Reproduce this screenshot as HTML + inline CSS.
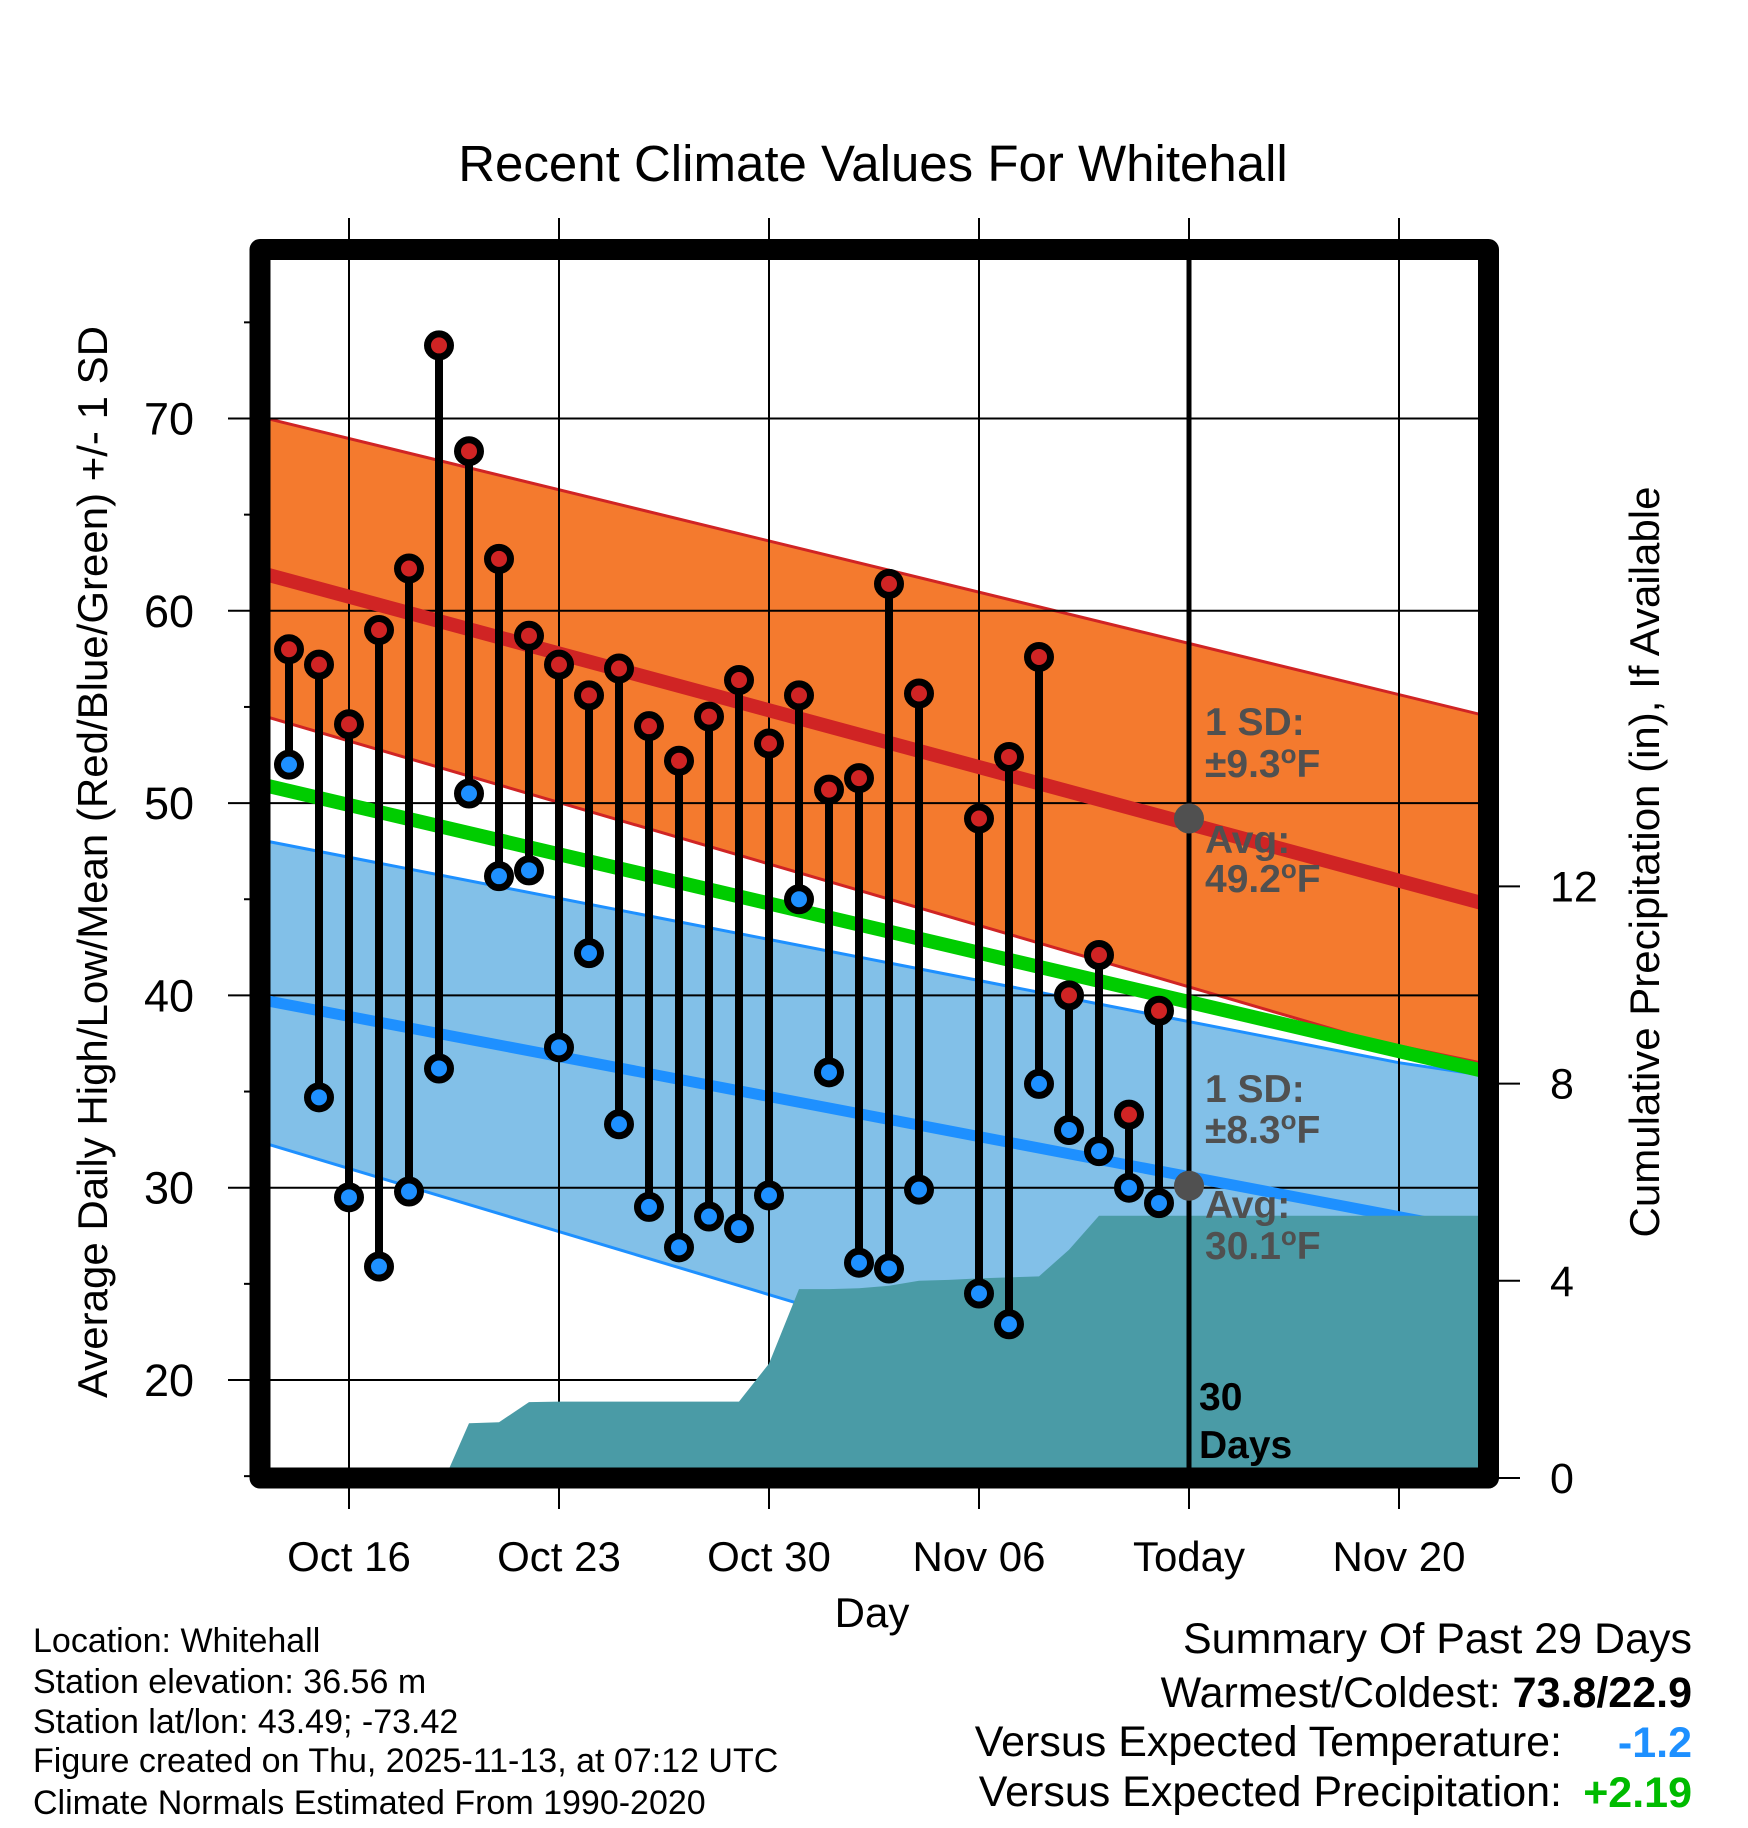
<!DOCTYPE html>
<html><head><meta charset="utf-8"><style>
html,body{margin:0;padding:0;background:#fff;}
svg{display:block;font-family:"Liberation Sans",sans-serif;}
</style></head><body>
<svg id="chart" width="1748" height="1828" viewBox="0 0 1748 1828" xmlns="http://www.w3.org/2000/svg">
<defs><clipPath id="plotclip"><rect x="270" y="260" width="1208" height="1208"/></clipPath></defs>
<rect width="1748" height="1828" fill="#fff"/>
<text x="873" y="181" font-size="51" text-anchor="middle">Recent Climate Values For Whitehall</text>
<g id="bands" clip-path="url(#plotclip)"></g>
<g id="grid"></g>
<g id="lines" clip-path="url(#plotclip)"></g>
<g id="precip" clip-path="url(#plotclip)"></g>
<g id="marks"></g>
<g id="annot" font-weight="bold" font-size="39" fill="#505050"></g>
<rect x="260" y="249.5" width="1228.5" height="1228.5" fill="none" stroke="#000" stroke-width="21" stroke-linejoin="round"/>
<g id="axes"></g>
<text transform="translate(107,862) rotate(-90)" font-size="42" text-anchor="middle">Average Daily High/Low/Mean (Red/Blue/Green) +/- 1 SD</text>
<text transform="translate(1659,862) rotate(-90)" font-size="42" text-anchor="middle">Cumulative Precipitation (in), If Available</text>
<text x="872" y="1627" font-size="42" text-anchor="middle">Day</text>
<g font-size="34">
<text x="33" y="1652">Location: Whitehall</text>
<text x="33" y="1693">Station elevation: 36.56 m</text>
<text x="33" y="1733">Station lat/lon: 43.49; -73.42</text>
<text x="33" y="1772">Figure created on Thu, 2025-11-13, at 07:12 UTC</text>
<text x="33" y="1814">Climate Normals Estimated From 1990-2020</text>
</g>
<g font-size="43" text-anchor="end">
<text x="1692" y="1653">Summary Of Past 29 Days</text>
<text x="1692" y="1707"><tspan>Warmest/Coldest:  </tspan><tspan font-weight="bold">73.8/22.9</tspan></text>
<text x="1562" y="1756">Versus Expected Temperature:</text>
<text x="1692" y="1757" font-weight="bold" fill="#1E90FF">-1.2</text>
<text x="1562" y="1806">Versus Expected Precipitation:</text>
<text x="1692" y="1807" font-weight="bold" fill="#00BB00">+2.19</text>
</g>
</svg>
<script>
const days=[0,1,2,3,4,5,6,7,8,9,10,11,12,13,14,15,16,17,18,19,20,21,23,24,25,26,27,28,29];
const highs=[58.0,57.2,54.1,59.0,62.2,73.8,68.3,62.7,58.7,57.2,55.6,57.0,54.0,52.2,54.5,56.4,53.1,55.6,50.7,51.3,61.4,55.7,49.2,52.4,57.6,40.0,42.1,33.8,39.2];
const lows=[52.0,34.7,29.5,25.9,29.8,36.2,50.5,46.2,46.5,37.3,42.2,33.3,29.0,26.9,28.5,27.9,29.6,45.0,36.0,26.1,25.8,29.9,24.5,22.9,35.4,33.0,31.9,30.0,29.2];
const normDays=[-1,40];
const avgHigh=[62.0,44.7];
const upperHigh=[70.1,54.5];
const lowerHighDays=[-1,36,40];
const lowerHigh=[54.6,37.7,36.4];
const avgMean=[51.0,36.0];
const upperLowDays=[-1,37,40];
const upperLow=[48.1,36.5,35.8];
const avgLow=[39.8,27.6];
const lowerLow=[32.4,13.2];
const precipDays=[5.2,6,7,8,9,15,16,17,18,19,20,21,22,23,24,25,26,27,29,40];
const precipCum=[0,1.11,1.13,1.54,1.55,1.55,2.32,3.83,3.83,3.85,3.9,4.0,4.02,4.05,4.07,4.09,4.63,5.32,5.32,5.32];
const yTicks=[20,30,40,50,60,70];
const yMinor=[15,25,35,45,55,65,75];
const pTicks=[0,4,8,12];
const xTickDays=[2,9,16,23,30,37];
const xTickLabels=["Oct 16","Oct 23","Oct 30","Nov 06","Today","Nov 20"];
const todayDay=30;

const NS="http://www.w3.org/2000/svg";
const X=d=>289+d*30;
const Y=v=>418.5+(70-v)*19.23;
const P=p=>1478-p*49.3;
function mk(tag,attrs,parent){const e=document.createElementNS(NS,tag);for(const k in attrs)e.setAttribute(k,attrs[k]);document.getElementById(parent).appendChild(e);return e;}
function pts(ds,vs){return ds.map((d,i)=>X(d)+","+Y(vs[i])).join(" ");}

let lb=mk('polygon',{points:pts(upperLowDays,upperLow)+" "+pts(normDays.slice().reverse(),lowerLow.slice().reverse()),fill:'#82C0E8'},'bands');


let ob=mk('polygon',{points:pts(normDays,upperHigh)+" "+pts(lowerHighDays.slice().reverse(),lowerHigh.slice().reverse()),fill:'#F47A2E'},'bands');


let e;
e=mk('polyline',{points:pts(normDays,upperHigh),fill:'none',stroke:'#D02424','stroke-width':3},'bands');


e=mk('polyline',{points:pts(lowerHighDays,lowerHigh),fill:'none',stroke:'#D02424','stroke-width':3},'bands');


e=mk('polyline',{points:pts(upperLowDays,upperLow),fill:'none',stroke:'#1E90FF','stroke-width':3},'bands');


e=mk('polyline',{points:pts(normDays,lowerLow),fill:'none',stroke:'#1E90FF','stroke-width':3},'bands');



yTicks.forEach(v=>{
 const g=mk('line',{x1:228,x2:1488,y1:Y(v),y2:Y(v),stroke:'#000','stroke-width':2},'grid');
 
 
 const t=mk('text',{x:194,y:Y(v)+16,'font-size':45,'text-anchor':'end'},'axes');
 t.textContent=v;
 
 
});
yMinor.forEach(v=>{
 const g=mk('line',{x1:244,x2:260,y1:Y(v),y2:Y(v),stroke:'#000','stroke-width':2},'axes');
 
 
});
xTickDays.forEach((d,i)=>{
 const g=mk('line',{x1:X(d),x2:X(d),y1:218,y2:1509,stroke:'#000','stroke-width':2},'grid');
 
 
 const t=mk('text',{x:X(d),y:1571,'font-size':42,'text-anchor':'middle'},'axes');
 t.textContent=xTickLabels[i];
 
 
});
pTicks.forEach(p=>{
 const g=mk('line',{x1:1488,x2:1520,y1:P(p),y2:P(p),stroke:'#000','stroke-width':2},'axes');
 
 
 const t=mk('text',{x:1550,y:P(p)+15,'font-size':43},'axes');
 t.textContent=p;
 
 
});

let pp=X(precipDays[0])+","+P(0)+" "+precipDays.map((d,i)=>X(d)+","+P(precipCum[i])).join(" ")+" "+X(precipDays[precipDays.length-1])+","+P(0);
e=mk('polygon',{points:pp,fill:'#4A9BA6'},'precip');



e=mk('polyline',{points:pts(normDays,avgMean),fill:'none',stroke:'#00CC00','stroke-width':14},'lines');


e=mk('polyline',{points:pts(normDays,avgHigh),fill:'none',stroke:'#D02424','stroke-width':14},'lines');


e=mk('polyline',{points:pts(normDays,avgLow),fill:'none',stroke:'#1E90FF','stroke-width':11},'lines');



e=mk('line',{x1:X(todayDay),x2:X(todayDay),y1:260,y2:1468,stroke:'#000','stroke-width':5},'marks');



days.forEach((d,i)=>{
 const s=mk('line',{x1:X(d),x2:X(d),y1:Y(highs[i]),y2:Y(lows[i]),stroke:'#000','stroke-width':8},'marks');
 
 
});
days.forEach((d,i)=>{
 const h=mk('circle',{cx:X(d),cy:Y(highs[i]),r:11.5,fill:'#D02424',stroke:'#000','stroke-width':7},'marks');
 
 
 const l=mk('circle',{cx:X(d),cy:Y(lows[i]),r:11.5,fill:'#1E90FF',stroke:'#000','stroke-width':7},'marks');
 
 
});
const todayHigh=49.2, todayLow=30.1;
e=mk('circle',{cx:X(todayDay),cy:Y(todayHigh),r:15,fill:'#505050'},'marks');


e=mk('circle',{cx:X(todayDay),cy:Y(todayLow),r:15,fill:'#505050'},'marks');



const ann=[["1 SD:",735,false],["±9.3",777,true],["Avg:",853,false],["49.2",892,true],["1 SD:",1102,false],["±8.3",1143,true],["Avg:",1218,false],["30.1",1259,true]];
ann.forEach(a=>{
 const t=mk('text',{x:1205,y:a[1]},'annot');
 
 
 if(a[2]){
  t.appendChild(document.createTextNode(a[0]));
  const s=document.createElementNS(NS,'tspan');s.setAttribute('dy','-14');s.setAttribute('font-size','26');s.textContent='o';t.appendChild(s);
  const f=document.createElementNS(NS,'tspan');f.setAttribute('dy','14');f.textContent='F';t.appendChild(f);
 } else t.textContent=a[0];
});
[["30",1410],["Days",1458]].forEach(a=>{
 const t=mk('text',{x:1199,y:a[1],fill:'#000'},'annot');
 t.textContent=a[0];
 
 
});
</script>
</body></html>
